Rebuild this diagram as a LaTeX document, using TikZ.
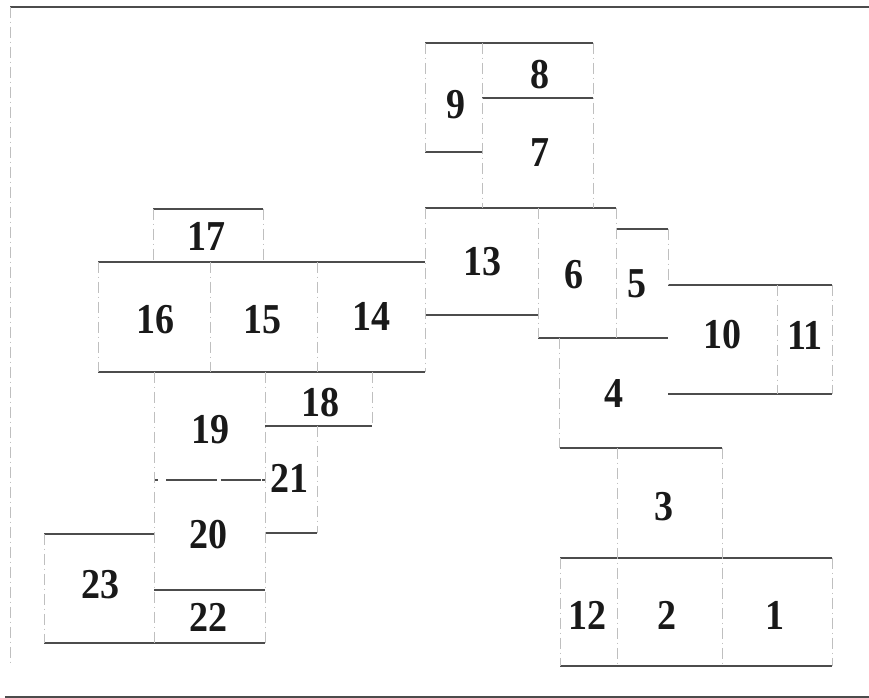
\documentclass[tikz,border=0pt]{standalone}
\usepackage{fontspec}
\setmainfont{Liberation Serif}
\tikzset{
  wall/.style={draw=black!70, line width=0.9pt},
  part/.style={draw=black!25, line width=0.7pt, dash pattern=on 8pt off 3pt on 1pt off 3pt},
  num/.style={inner sep=0pt, font=\fontsize{28.5}{30}\selectfont\bfseries, text=black!90},
}
\newcommand{\nm}[1]{\scalebox{1}[1.12]{#1}}
\begin{document}
\begin{tikzpicture}[x=0.75pt,y=-0.75pt]
\useasboundingbox (0,0) rectangle (869,698);
\fill[white] (0,0) rectangle (869,698);
% frame
\draw[wall] (10,7) -- (869,7);
\draw[wall] (5,697) -- (869,697);
\draw[part] (10,7) -- (10,665);
% horizontal walls
\draw[wall] (425,43) -- (593,43);
\draw[wall] (482,98) -- (593,98);
\draw[wall] (425,152) -- (482,152);
\draw[wall] (153,209) -- (263,209);
\draw[wall] (425,208) -- (616,208);
\draw[wall] (616,229) -- (668,229);
\draw[wall] (98,262) -- (425,262);
\draw[wall] (668,285) -- (832,285);
\draw[wall] (425,315) -- (538,315);
\draw[wall] (538,338) -- (668,338);
\draw[wall] (98,372) -- (425,372);
\draw[wall] (668,394) -- (832,394);
\draw[wall] (265,426) -- (372,426);
\draw[wall, dash pattern=on 3pt off 6pt on 38pt off 3pt on 30pt off 1pt] (154,480) -- (265,480);
\draw[wall] (265,533) -- (317,533);
\draw[wall] (44,534) -- (154,534);
\draw[wall] (154,590) -- (265,590);
\draw[wall] (44,643) -- (265,643);
\draw[wall] (560,448) -- (722,448);
\draw[wall] (560,558) -- (832,558);
\draw[wall] (560,666) -- (832,666);
% vertical partitions
\draw[part] (425,43) -- (425,152);
\draw[part] (482,43) -- (482,208);
\draw[part] (593,43) -- (593,208);
\draw[part] (153,209) -- (153,262);
\draw[part] (263,209) -- (263,262);
\draw[part] (425,208) -- (425,372);
\draw[part] (538,208) -- (538,338);
\draw[part] (616,208) -- (616,338);
\draw[part] (668,229) -- (668,285);
\draw[part] (777,285) -- (777,394);
\draw[part] (832,285) -- (832,394);
\draw[part] (98,262) -- (98,372);
\draw[part] (210,262) -- (210,372);
\draw[part] (317,262) -- (317,372);
\draw[part] (559,338) -- (559,448);
\draw[part] (617,448) -- (617,666);
\draw[part] (722,448) -- (722,666);
\draw[part] (560,558) -- (560,666);
\draw[part] (832,558) -- (832,666);
\draw[part] (154,372) -- (154,643);
\draw[part] (265,372) -- (265,643);
\draw[part] (317,426) -- (317,533);
\draw[part] (372,372) -- (372,426);
\draw[part] (44,534) -- (44,643);
% labels
\node[num] (n1)  at (775,615) {\nm{1}};
\node[num] (n2)  at (667,615) {\nm{2}};
\node[num] (n3)  at (664,507) {\nm{3}};
\node[num] (n4)  at (614,393) {\nm{4}};
\node[num] (n5)  at (637,284) {\nm{5}};
\node[num] (n6)  at (574,275) {\nm{6}};
\node[num] (n7)  at (540,153) {\nm{7}};
\node[num] (n8)  at (540,75)  {\nm{8}};
\node[num] (n9)  at (456,105) {\nm{9}};
\node[num] (n10) at (722,335) {\nm{10}};
\node[num] (n11) at (805,335) {\nm{11}};
\node[num] (n12) at (587,615) {\nm{12}};
\node[num] (n13) at (482,262) {\nm{13}};
\node[num] (n14) at (371,316) {\nm{14}};
\node[num] (n15) at (262,320) {\nm{15}};
\node[num] (n16) at (155,320) {\nm{16}};
\node[num] (n17) at (206,236) {\nm{17}};
\node[num] (n18) at (320,403) {\nm{18}};
\node[num] (n19) at (210,430) {\nm{19}};
\node[num] (n20) at (208,535) {\nm{20}};
\node[num] (n21) at (289,478) {\nm{21}};
\node[num] (n22) at (208,617) {\nm{22}};
\node[num] (n23) at (100,585) {\nm{23}};
\end{tikzpicture}
\end{document}
